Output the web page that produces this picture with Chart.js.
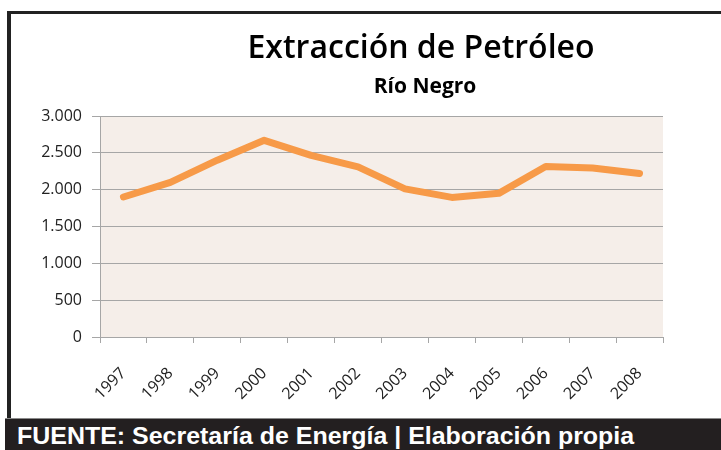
<!DOCTYPE html>
<html lang="es">
<head>
<meta charset="utf-8">
<script src="https://cdn.jsdelivr.net/npm/chart.js@4"></script>
<style>
  html, body { margin: 0; padding: 0; background: #fff; }
  #frame { position: relative; width: 721px; height: 450px; overflow: hidden; background: #fff; }
  #border { position: absolute; left: 7px; top: 11px; width: 714px; height: 408px;
            border-left: 4px solid #222; border-top: 3px solid #222; box-sizing: border-box; }
  #chartBox { position: absolute; left: 11px; top: 14px; width: 710px; height: 404px; }
  #footer { position: absolute; left: 5px; top: 418px; width: 716px; height: 32px;
            background: #231f20; border-top: 1px solid #8a8a8a; box-sizing: border-box; overflow: hidden; }
  #footer span { display: inline-block; margin-left: 12px; color: #fff; white-space: nowrap;
                 font: bold 23px "Liberation Sans", Arial, sans-serif; line-height: 34px;
                 transform: scaleX(1.085); transform-origin: left center; }
</style>
</head>
<body>
<div id="frame">
  <div id="border"></div>
  <div id="chartBox"><canvas id="oilChart" width="710" height="404"></canvas></div>
  <div id="footer"><span>FUENTE: Secretaría de Energía | Elaboración propia</span></div>
</div>
<script>
// datos
const years = ['1997', '1998', '1999', '2000', '2001', '2002', '2003', '2004', '2005', '2006', '2007', '2008'];
const extraccion = [1900, 2100, 2400, 2670, 2465, 2310, 2010, 1895, 1950, 2315, 2295, 2220];
const yTicks = [0, 500, 1000, 1500, 2000, 2500, 3000];
const chartTitle = 'Extracción de Petróleo';
const chartSubtitle = 'Río Negro';

function formatMiles(v) {
    return v.toString().replace(/\B(?=(\d{3})+(?!\d))/g, '.');
}

// fondo del área de trazado
const plotBackground = {
    id: 'plotBackground',
    beforeDraw(chart) {
        const { ctx, chartArea: a } = chart;
        ctx.save();
        ctx.fillStyle = '#f5eee9';
        ctx.fillRect(a.left, a.top, a.right - a.left, a.bottom - a.top);
        ctx.restore();
    }
};

// título y subtítulo al estilo Excel
const excelTitles = {
    id: 'excelTitles',
    afterDraw(chart) {
        const ctx = chart.ctx;
        ctx.save();
        ctx.fillStyle = '#000';
        ctx.textAlign = 'center';
        ctx.textBaseline = 'alphabetic';
        ctx.font = '600 32px "Open Sans", sans-serif';
        ctx.fillText(chartTitle, 410, 44);
        ctx.font = 'bold 21px "Open Sans", sans-serif';
        ctx.fillText(chartSubtitle, 414, 79);
        ctx.restore();
    }
};

const ctx = document.getElementById('oilChart').getContext('2d');
new Chart(ctx, {
    type: 'line',
    data: {
        labels: years,
        datasets: [{
            label: 'Extracción',
            data: extraccion,
            borderColor: '#f79a48',
            borderWidth: 7,
            borderJoinStyle: 'round',
            borderCapStyle: 'round',
            pointRadius: 0,
            tension: 0,
            fill: false
        }]
    },
    options: {
        responsive: false,
        animation: false,
        events: [],
        layout: { padding: { top: 102, right: 58, left: 0, bottom: 0 } },
        plugins: {
            legend: { display: false },
            tooltip: { enabled: false }
        },
        scales: {
            x: {
                offset: true,
                afterFit(scale) { scale.height = 81; },
                grid: {
                    offset: true,
                    drawOnChartArea: false,
                    drawTicks: true,
                    tickLength: 6,
                    color: '#a6a6a6'
                },
                border: { color: '#a6a6a6' },
                ticks: {
                    minRotation: 45,
                    maxRotation: 45,
                    padding: 21,
                    color: '#222',
                    font: { family: '"Open Sans", sans-serif', size: 16 }
                }
            },
            y: {
                min: 0,
                max: 3000,
                afterFit(scale) { scale.width = 89; },
                afterBuildTicks(scale) { scale.ticks = yTicks.map(v => ({ value: v })); },
                grid: {
                    color: '#a6a6a6',
                    tickLength: 8
                },
                border: { color: '#a6a6a6' },
                ticks: {
                    padding: 10,
                    color: '#222',
                    font: { family: '"Open Sans", sans-serif', size: 16 },
                    callback: v => formatMiles(v)
                }
            }
        }
    },
    plugins: [plotBackground, excelTitles]
});
</script>
</body>
</html>
